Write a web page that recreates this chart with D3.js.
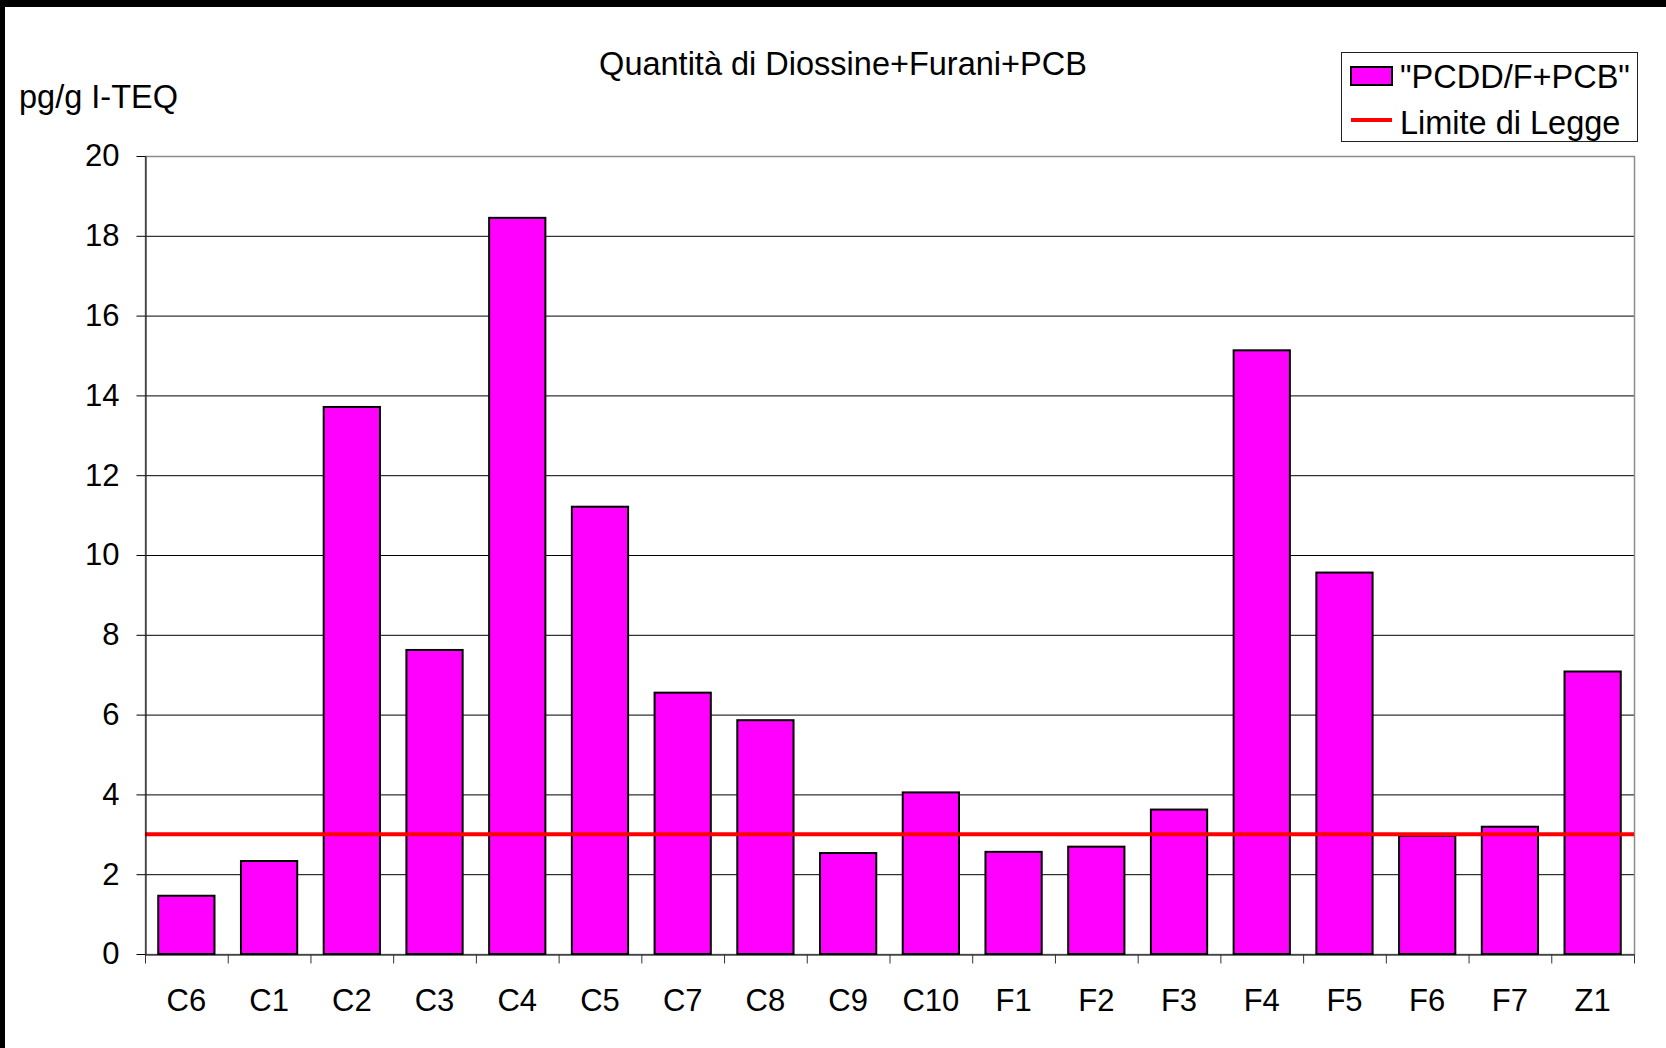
<!DOCTYPE html>
<html>
<head>
<meta charset="utf-8">
<script src="https://cdn.jsdelivr.net/npm/d3@7"></script>
<style>
  body { margin: 0; background: #fff; }
  svg text { font-family: "Liberation Sans", Arial, sans-serif; fill: #000; }
</style>
</head>
<body>
<svg id="chart"></svg>
<script>
const categories = ["C6", "C1", "C2", "C3", "C4", "C5", "C7", "C8", "C9", "C10", "F1", "F2", "F3", "F4", "F5", "F6", "F7", "Z1"];
const values = [1.46, 2.33, 13.71, 7.62, 18.45, 11.21, 6.55, 5.86, 2.53, 4.05, 2.56, 2.69, 3.62, 15.13, 9.56, 2.96, 3.19, 7.08];
const legalLimit = 3;
const yTicks = [0, 2, 4, 6, 8, 10, 12, 14, 16, 18, 20];
const seriesName = "\"PCDD/F+PCB\"";
const limitName = "Limite di Legge";
const title = "Quantità di Diossine+Furani+PCB";
const yUnit = "pg/g I-TEQ";

const width = 1666;
const height = 1048;
const margin = { top: 156, right: 32, bottom: 94, left: 145 };

const svg = d3.select("#chart").attr("width", width).attr("height", height);

svg.append("rect").attr("width", width).attr("height", height).attr("fill", "#fff");
// black edges of the original screenshot
svg.append("rect").attr("x", 0).attr("y", 0).attr("width", width).attr("height", 7).attr("fill", "#000");
svg.append("rect").attr("x", 0).attr("y", 0).attr("width", 5).attr("height", height).attr("fill", "#000");

const x = d3.scaleBand()
  .domain(categories)
  .range([margin.left, width - margin.right])
  .paddingInner(0.32)
  .paddingOuter(0.16);

const xIdx = d3.scaleLinear()
  .domain([0, categories.length])
  .range([margin.left, width - margin.right]);

const y = d3.scaleLinear()
  .domain([0, 20])
  .range([height - margin.bottom, margin.top]);

// gridlines
svg.append("g")
  .selectAll("line")
  .data(yTicks.filter(d => d > 0 && d < 20))
  .enter()
  .append("line")
  .attr("x1", margin.left)
  .attr("x2", width - margin.right)
  .attr("y1", d => y(d) + 0.5)
  .attr("y2", d => y(d) + 0.5)
  .attr("stroke", "#000")
  .attr("stroke-width", 1);

// plot frame
svg.append("rect")
  .attr("x", margin.left + 0.5)
  .attr("y", margin.top + 0.5)
  .attr("width", width - margin.right - margin.left)
  .attr("height", height - margin.bottom - margin.top)
  .attr("fill", "none")
  .attr("stroke", "#8c8c8c")
  .attr("stroke-width", 1.5);

// bars
svg.append("g")
  .selectAll("rect")
  .data(values)
  .enter()
  .append("rect")
  .attr("x", (d, i) => x(categories[i]))
  .attr("y", d => y(d))
  .attr("width", x.bandwidth())
  .attr("height", d => y(0) - y(d))
  .attr("fill", "#ff00ff")
  .attr("stroke", "#000")
  .attr("stroke-width", 2);

// limit line
svg.append("line")
  .attr("x1", margin.left)
  .attr("x2", width - margin.right)
  .attr("y1", y(legalLimit))
  .attr("y2", y(legalLimit))
  .attr("stroke", "#ff0000")
  .attr("stroke-width", 4);

// y axis
const yAxis = svg.append("g")
  .attr("transform", `translate(${margin.left + 0.5},0)`)
  .call(d3.axisLeft(y).tickValues(yTicks).tickSize(9).tickPadding(17).tickSizeOuter(0));
yAxis.selectAll("text").style("font-size", "31px");
yAxis.select(".domain").attr("stroke", "#000");

// x axis: boundary ticks
const xTickAxis = svg.append("g")
  .attr("transform", `translate(0,${height - margin.bottom + 0.5})`)
  .call(d3.axisBottom(xIdx).tickValues(d3.range(categories.length + 1)).tickFormat("").tickSize(9).tickSizeOuter(0));
xTickAxis.select(".domain").attr("stroke", "#000");
xTickAxis.selectAll("line").attr("stroke", "#333");

// x axis labels
const xAxis = svg.append("g")
  .attr("transform", `translate(0,${height - margin.bottom})`)
  .call(d3.axisBottom(x).tickSize(0).tickPadding(35));
xAxis.select(".domain").remove();
xAxis.selectAll("text").style("font-size", "31px");

// title and unit
svg.append("text")
  .attr("x", 843)
  .attr("y", 75)
  .attr("text-anchor", "middle")
  .style("font-size", "32.5px")
  .text(title);

svg.append("text")
  .attr("x", 19)
  .attr("y", 108)
  .style("font-size", "32.5px")
  .text(yUnit);

// legend
const legend = svg.append("g");
legend.append("rect")
  .attr("x", 1341.5).attr("y", 52.5)
  .attr("width", 296).attr("height", 89)
  .attr("fill", "#fff").attr("stroke", "#222").attr("stroke-width", 1);
legend.append("rect")
  .attr("x", 1351).attr("y", 67)
  .attr("width", 41).attr("height", 18)
  .attr("fill", "#ff00ff").attr("stroke", "#000").attr("stroke-width", 2);
legend.append("line")
  .attr("x1", 1351).attr("x2", 1392)
  .attr("y1", 120).attr("y2", 120)
  .attr("stroke", "#ff0000").attr("stroke-width", 4);
legend.append("text")
  .attr("x", 1400).attr("y", 88)
  .style("font-size", "32.5px")
  .text(seriesName);
legend.append("text")
  .attr("x", 1400).attr("y", 134)
  .style("font-size", "32.5px")
  .text(limitName);
</script>
</body>
</html>
